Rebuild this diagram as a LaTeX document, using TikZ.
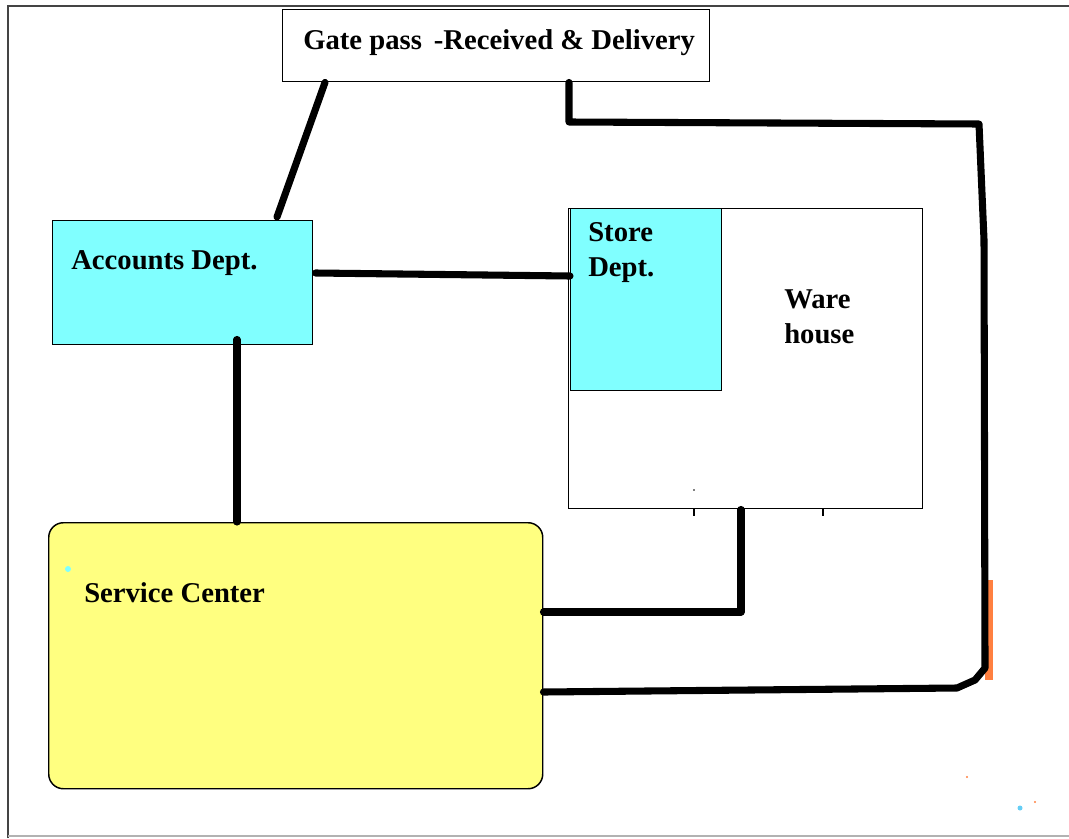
\documentclass[tikz,border=0pt]{standalone}
\usepackage{fontspec}
\setmainfont{Liberation Serif}
\usetikzlibrary{calc}
\definecolor{boxcyan}{HTML}{80FFFF}
\definecolor{boxyellow}{HTML}{FFFF80}
\definecolor{stripor}{HTML}{FF8040}
\definecolor{framegray}{HTML}{444444}
\tikzset{
  box/.style={draw=black, line width=1.1pt, inner sep=0pt, anchor=north west},
  lbl/.style={inner sep=0pt, anchor=base west, font=\fontsize{21.5}{26}\selectfont\bfseries},
  wire/.style={line width=5.3pt, line cap=round, line join=round},
}
\begin{document}
\begin{tikzpicture}[x=0.75pt,y=-0.75pt]
\useasboundingbox (0,0) rectangle (1069,838);
% frame
\draw[framegray, line width=1.6pt] (8,838) -- (8,6) -- (1069,6);
\draw[gray!60, line width=1pt] (8,836) -- (1069,836);
% boxes
\node[box, fill=white, minimum width=320.25pt, minimum height=54pt] (gate) at (282,9) {};
\node[box, fill=boxcyan, minimum width=195pt, minimum height=93pt] (acc) at (52,220) {};
\node[box, fill=white, minimum width=265.5pt, minimum height=225pt] (wh) at (568,208) {};
\node[box, fill=boxcyan, minimum width=113.25pt, minimum height=136.5pt] (store) at (570,208) {};
\node[box, fill=boxyellow, rounded corners=11pt, minimum width=370.5pt, minimum height=199.5pt] (svc) at (48,522) {};
% labels
\node[lbl] (gatetxt) at (303,50) {Gate pass\ \,-Received \& Delivery};
\node[lbl] (acctxt) at (71,269) {Accounts Dept.};
\node[lbl] (storetxt1) at (588,241) {Store};
\node[lbl] (storetxt2) at (588,276) {Dept.};
\node[lbl] (whtxt1) at (784,308) {Ware};
\node[lbl] (whtxt2) at (784,343) {house};
\node[lbl] (svctxt) at (84,602) {Service Center};
% small marks under the warehouse
\draw[line width=0.8pt] ($(wh.south west)+(126,0)$) -- ++(0,7);
\draw[line width=0.8pt] ($(wh.south west)+(255,0)$) -- ++(0,7);
\fill (694,490) circle (0.8);
% orange strip
\fill[stripor] (985,580) rectangle (993,680);
% connectors
\draw[wire] ($(gate.south west)+(43,0)$) -- ($(acc.north west)+(225,-3)$);
\draw[wire] ($(gate.south west)+(287,0)$) -- (569,122) -- (979,124) -- (984,240)
   -- (985,668) -- (975,680) -- (957,688) -- ($(svc.north east)+(0,170)$);
\draw[wire] ($(acc.north east)+(2,53)$) -- ($(store.north west)+(0,68)$);
\draw[wire] ($(acc.south west)+(185,-6)$) coordinate (accb) -- (accb |- svc.north);
\draw[wire] ($(wh.south west)+(173,0)$) |- ($(svc.north east)+(0,90)$);
% specks
\fill[boxcyan] (68,569) circle (3);
\fill[stripor] (967,777) circle (1.2);
\fill[stripor] (1035,802) circle (1.2);
\fill[cyan!60] (1020,808) circle (2.5);
\end{tikzpicture}
\end{document}
